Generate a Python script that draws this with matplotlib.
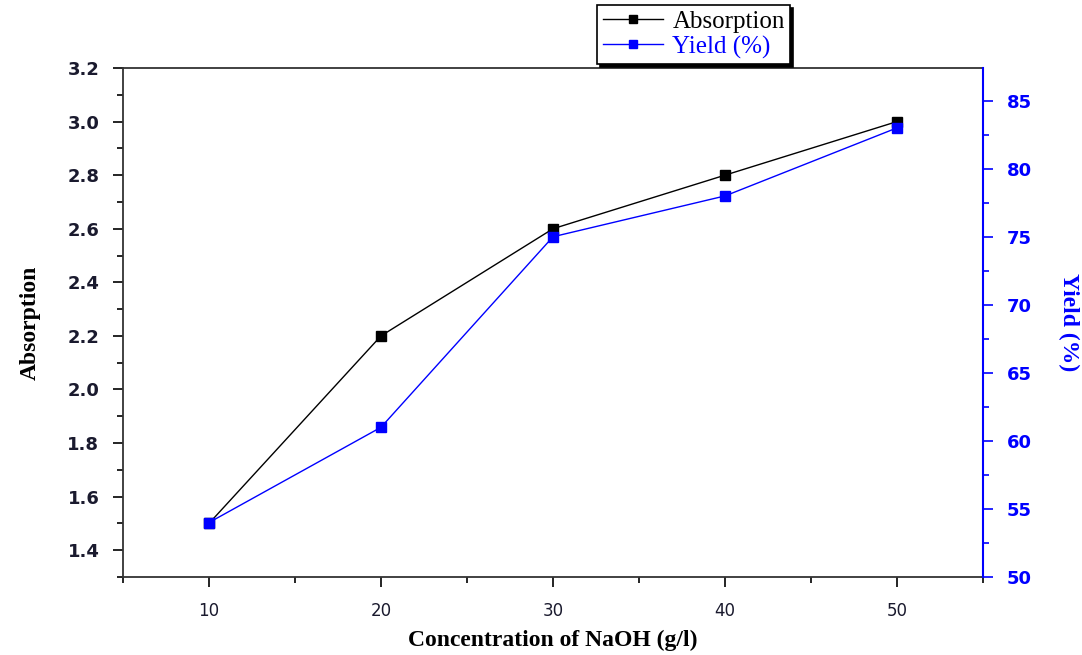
import matplotlib
matplotlib.use('Agg')
import matplotlib.pyplot as plt
from matplotlib.ticker import MultipleLocator

# Data
concentration = [10, 20, 30, 40, 50]
absorption = [1.5, 2.2, 2.6, 2.8, 3.0]
yield_pct = [54, 61, 75, 78, 83]

fig = plt.figure(figsize=(10.82, 6.55), dpi=100)
ax = fig.add_axes([123 / 1082, 1 - 577 / 655, (983 - 123) / 1082, (577 - 68) / 655])
ax2 = ax.twinx()

l1, = ax.plot(concentration, absorption, color='black', lw=1, marker='s', ms=7.5,
              mfc='black', mec='black', label='Absorption')
l2, = ax2.plot(concentration, yield_pct, color='blue', lw=1, marker='s', ms=7.5,
               mfc='blue', mec='blue', label='Yield (%)')

ax.set_xlim(5, 55)
ax.set_ylim(1.3, 3.2)
ax2.set_ylim(50, 87.4)

ax.xaxis.set_major_locator(MultipleLocator(10))
ax.xaxis.set_minor_locator(MultipleLocator(5))
ax.yaxis.set_major_locator(MultipleLocator(0.2))
ax.yaxis.set_minor_locator(MultipleLocator(0.1))
ax2.yaxis.set_major_locator(MultipleLocator(5))
ax2.yaxis.set_minor_locator(MultipleLocator(2.5))

ax.tick_params(axis='both', which='major', direction='out', length=7, width=1.2)
ax.tick_params(axis='both', which='minor', direction='out', length=4, width=1.2)
ax.tick_params(axis='y', which='major', pad=10)
ax.tick_params(axis='x', which='major', pad=11)
ax2.tick_params(axis='y', which='major', direction='out', length=7, width=1.2,
                colors='blue', pad=10)
ax2.tick_params(axis='y', which='minor', direction='out', length=4, width=1.2, colors='blue')

for lab in ax.get_yticklabels():
    lab.set_fontfamily('DejaVu Sans')
    lab.set_fontweight('bold')
    lab.set_fontsize(13)
    lab.set_color('#1a1a2e')
for lab in ax.get_xticklabels():
    lab.set_fontfamily('DejaVu Sans')
    lab.set_fontsize(12)
    lab.set_color('#1a1a2e')
for lab in ax2.get_yticklabels():
    lab.set_fontfamily('DejaVu Sans')
    lab.set_fontweight('bold')
    lab.set_fontsize(13)
    lab.set_color('blue')

for s in ['left', 'bottom', 'top']:
    ax.spines[s].set_linewidth(1.3)
    ax.spines[s].set_color('#333333')
ax2.spines['right'].set_color('blue')
ax2.spines['right'].set_linewidth(1.5)
ax.spines['right'].set_visible(False)
for s in ['left', 'bottom', 'top']:
    ax2.spines[s].set_visible(False)

ax.set_xlabel('Concentration of NaOH (g/l)', family='Liberation Serif', fontweight='bold',
              fontsize=17, va='center')
ax.xaxis.set_label_coords(0.5, -0.124)
ax.set_ylabel('Absorption', family='Liberation Serif', fontweight='bold', fontsize=17,
              va='center')
ax.yaxis.set_label_coords(-0.108, 0.5)
ax2.set_ylabel('Yield (%)', family='Liberation Serif', fontweight='bold', fontsize=17,
               color='blue', rotation=270, va='center')
ax2.yaxis.set_label_coords(1.100, 0.5)

leg = fig.legend([l1, l2], ['Absorption', 'Yield (%)'], loc='upper left',
                 bbox_to_anchor=(597 / 1082, 1 - 5 / 655), borderaxespad=0, frameon=True,
                 shadow={'color': 'black', 'alpha': 1}, fancybox=False, edgecolor='black',
                 handlelength=2.4, handletextpad=0.4, markerscale=0.75, borderpad=0.22,
                 labelspacing=0.1, prop={'family': 'Liberation Serif', 'size': 18})
leg.get_frame().set_linewidth(1.2)
leg.get_texts()[1].set_color('blue')

fig.savefig('out.png', dpi=100)
